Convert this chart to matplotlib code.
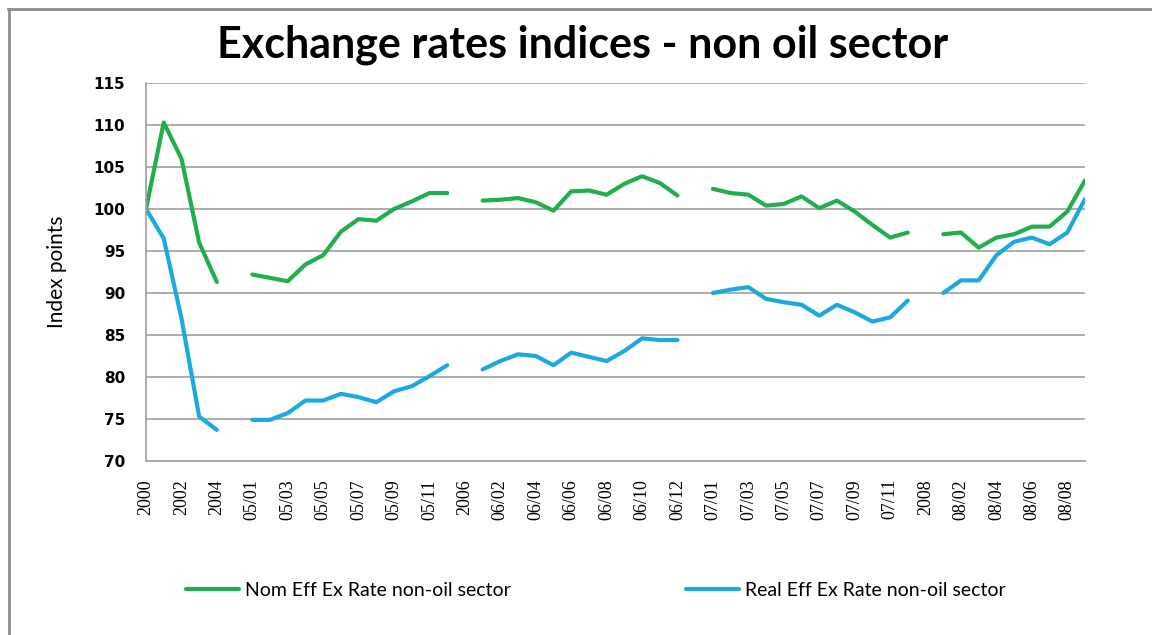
import numpy as np
import matplotlib
matplotlib.use("Agg")
import matplotlib.pyplot as plt
from matplotlib.lines import Line2D

nan = np.nan

# category labels (annual points, then monthly; blank annual rows left empty)
periods = (["2000", "2001", "2002", "2003", "2004", "2005"]
           + [f"05/{m:02d}" for m in range(1, 13)] + ["2006"]
           + [f"06/{m:02d}" for m in range(1, 13)] + ["2007"]
           + [f"07/{m:02d}" for m in range(1, 13)] + ["2008"]
           + [f"08/{m:02d}" for m in range(1, 10)])

nom_eff = [100.0, 110.3, 106.0, 96.0, 91.3, nan,
           92.2, 91.8, 91.4, 93.4, 94.5, 97.3, 98.8, 98.6, 100.0, 100.9, 101.9, 101.9, nan,
           101.0, 101.1, 101.3, 100.8, 99.8, 102.1, 102.2, 101.7, 103.0, 103.9, 103.1, 101.6, nan,
           102.4, 101.9, 101.7, 100.4, 100.6, 101.5, 100.1, 101.0, 99.7, 98.1, 96.6, 97.2, nan,
           97.0, 97.2, 95.4, 96.6, 97.0, 97.9, 97.9, 99.7, 103.4]

real_eff = [100.0, 96.5, 87.0, 75.3, 73.7, nan,
            74.9, 74.9, 75.7, 77.2, 77.2, 78.0, 77.6, 77.0, 78.3, 78.9, 80.1, 81.4, nan,
            80.9, 81.9, 82.7, 82.5, 81.4, 82.9, 82.4, 81.9, 83.1, 84.6, 84.4, 84.4, nan,
            90.0, 90.4, 90.7, 89.3, 88.9, 88.6, 87.3, 88.6, 87.7, 86.6, 87.1, 89.1, nan,
            90.0, 91.5, 91.5, 94.5, 96.1, 96.6, 95.8, 97.2, 101.2]

series_names = ["Nom Eff Ex Rate non-oil sector", "Real Eff Ex Rate non-oil sector"]
green = "#21ae4c"
blue = "#1ca8e0"
grid_col = "#a6a6a6"

fig = plt.figure(figsize=(11.52, 6.35), dpi=100)
fig.patch.set_facecolor("white")

# chart border (top and left edges visible in the original)
fig.add_artist(Line2D([8 / 1152, 1.0], [1 - 9 / 635, 1 - 9 / 635], transform=fig.transFigure,
                      color="#8c8c8c", lw=2.0))
fig.add_artist(Line2D([9 / 1152, 9 / 1152], [0.0, 1 - 9 / 635], transform=fig.transFigure,
                      color="#8c8c8c", lw=2.0))

ax = fig.add_axes([146 / 1152, 1 - 461 / 635, 939 / 1152, 378 / 635])
x = np.arange(len(periods))
ax.plot(x, nom_eff, color=green, lw=3.0, solid_capstyle="round", solid_joinstyle="round",
        label=series_names[0])
ax.plot(x, real_eff, color=blue, lw=3.0, solid_capstyle="round", solid_joinstyle="round",
        label=series_names[1])

ax.set_xlim(0, len(periods) - 1)
ax.set_ylim(70, 115)
ax.set_yticks(np.arange(70, 116, 5))
ax.set_xticks(x[::2])
ax.set_xticklabels(periods[::2], rotation=90, family="Liberation Serif", fontsize=13)
for lab in ax.get_yticklabels():
    lab.set_family("DejaVu Sans")
    lab.set_fontweight("bold")
    lab.set_fontsize(11)
ax.tick_params(axis="y", length=0, pad=15)
ax.tick_params(axis="x", length=0, pad=13)
ax.yaxis.grid(True, color=grid_col, lw=1.3)
ax.set_axisbelow(True)
for s in ["top", "right"]:
    ax.spines[s].set_visible(False)
for s in ["left", "bottom"]:
    ax.spines[s].set_color(grid_col)
    ax.spines[s].set_linewidth(1.3)

fig.text(57 / 1152, 1 - 272 / 635, "Index points", rotation=90, ha="center", va="center",
         family="Lato", fontsize=15)
fig.text(583 / 1152, 1 - 45 / 635, "Exchange rates indices - non oil sector", ha="center",
         va="center", family="Lato", fontweight="bold", fontsize=31)

fig.legend(loc="center left", bbox_to_anchor=(186 / 1152, 1 - 590 / 635), ncol=2,
           frameon=False, prop={"family": "Lato", "size": 14}, handlelength=2.75,
           handletextpad=0.28, columnspacing=9.0, borderpad=0, borderaxespad=0)

fig.savefig("out.png", dpi=100, facecolor="white")
